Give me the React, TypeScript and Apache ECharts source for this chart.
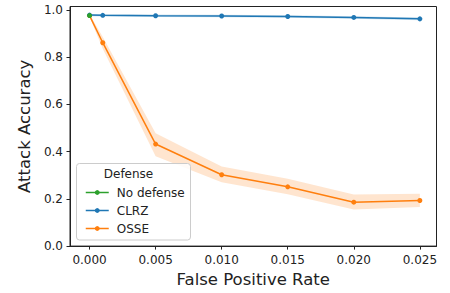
import React, { useEffect, useRef } from "react";
import * as echarts from "echarts";

const fprValues = [0, 0.001, 0.005, 0.01, 0.015, 0.02, 0.025];
const noDefense = [0.976];
const clrz = [0.978, 0.977, 0.975, 0.974, 0.972, 0.968, 0.962];
const clrzLow = [0.973, 0.972, 0.970, 0.969, 0.967, 0.962, 0.956];
const clrzHigh = [0.983, 0.982, 0.980, 0.979, 0.977, 0.973, 0.968];
const osse = [0.976, 0.861, 0.432, 0.302, 0.251, 0.186, 0.193];
const osseLow = [0.97, 0.835, 0.38, 0.27, 0.22, 0.155, 0.165];
const osseHigh = [0.982, 0.885, 0.478, 0.337, 0.285, 0.218, 0.222];
const yTicks = [0, 0.2, 0.4, 0.6, 0.8, 1.0];
const xTicks = [0, 0.005, 0.01, 0.015, 0.02, 0.025];

const FONT = "DejaVu Sans";
const GREEN = "#2ca02c";
const BLUE = "#1f77b4";
const ORANGE = "#ff7f0e";

function bandSeries(name: string, low: number[], high: number[], fill: string) {
  return {
    type: "custom",
    name,
    silent: true,
    data: [[fprValues[0], low[0]]],
    z: 1,
    renderItem: (params: any, api: any) => {
      if (params.dataIndex !== 0) return null;
      const pts: number[][] = [];
      for (let i = 0; i < fprValues.length; i++) pts.push(api.coord([fprValues[i], high[i]]));
      for (let i = fprValues.length - 1; i >= 0; i--) pts.push(api.coord([fprValues[i], low[i]]));
      return { type: "polygon", shape: { points: pts }, style: { fill, stroke: "none" } };
    },
  };
}

function lineSeries(name: string, xs: number[], ys: number[], color: string, z: number) {
  return {
    type: "line",
    name,
    data: ys.map((y, i) => [xs[i], y]),
    symbol: "circle",
    symbolSize: 5,
    showSymbol: true,
    lineStyle: { color, width: 1.5 },
    itemStyle: { color },
    z,
  };
}

export default function App() {
  const ref = useRef<HTMLDivElement>(null);
  useEffect(() => {
    if (!ref.current) return;
    const chart = echarts.init(ref.current, undefined, { renderer: "svg" });
    chart.setOption({
      animation: false,
      backgroundColor: "#ffffff",
      grid: { left: 70, right: 13.5, top: 6.5, bottom: 46.5, show: true, borderColor: "#222", borderWidth: 1 },
      xAxis: {
        type: "value",
        min: -0.00148,
        max: 0.02626,
        interval: 0.005,
        name: "False Positive Rate",
        nameLocation: "middle",
        nameGap: 23,
        nameTextStyle: { fontFamily: FONT, fontSize: 16.5, color: "#222" },
        axisLine: { show: true, onZero: false, lineStyle: { color: "#222", width: 1 } },
        axisTick: { show: true, length: 3.5, lineStyle: { color: "#222" }, customValues: xTicks },
        axisLabel: {
          fontFamily: FONT,
          fontSize: 12,
          color: "#222",
          margin: 8,
          customValues: xTicks,
          formatter: (v: number) => v.toFixed(3),
        },
        splitLine: { show: false },
      },
      yAxis: {
        type: "value",
        min: 0,
        max: 1.0143,
        name: "Attack Accuracy",
        nameLocation: "middle",
        nameGap: 34,
        nameTextStyle: { fontFamily: FONT, fontSize: 16.5, color: "#222" },
        axisLine: { show: true, onZero: false, lineStyle: { color: "#222", width: 1 } },
        axisTick: { show: true, length: 3.5, lineStyle: { color: "#222" }, customValues: yTicks },
        axisLabel: {
          fontFamily: FONT,
          fontSize: 12,
          color: "#222",
          margin: 7,
          customValues: yTicks,
          formatter: (v: number) => v.toFixed(1),
        },
        splitLine: { show: false },
      },
      legend: {
        data: ["No defense", "CLRZ", "OSSE"],
        orient: "vertical",
        left: 80,
        top: 180.5,
        itemWidth: 23,
        itemHeight: 6,
        itemGap: 4,
        itemStyle: { borderWidth: 0 },
        lineStyle: { width: 1.5 },
        textStyle: { fontFamily: FONT, fontSize: 12, color: "#222", padding: [0, 0, 0, 3], lineHeight: 14 },
        z: 20,
      },
      graphic: [
        {
          type: "rect",
          shape: { x: 76.5, y: 163.5, width: 114, height: 76.5, r: 3 },
          style: { fill: "rgba(255,255,255,0.85)", stroke: "#cccccc", lineWidth: 1 },
          z: 10,
        },
        {
          type: "text",
          x: 128.5,
          y: 174,
          style: { text: "Defense", font: `12px ${FONT}`, fill: "#222", align: "center", verticalAlign: "middle" },
          z: 11,
        },
      ],
      series: [
        bandSeries("clrzBand", clrzLow, clrzHigh, "rgba(31,119,180,0.2)"),
        bandSeries("osseBand", osseLow, osseHigh, "rgba(255,127,14,0.2)"),
        lineSeries("OSSE", fprValues, osse, ORANGE, 3),
        lineSeries("CLRZ", fprValues, clrz, BLUE, 4),
        lineSeries("No defense", fprValues.slice(0, 1), noDefense, GREEN, 5),
      ],
    });
    return () => chart.dispose();
  }, []);
  return <div ref={ref} style={{ width: 450, height: 293, position: "absolute", left: 0, top: 0 }} />;
}
